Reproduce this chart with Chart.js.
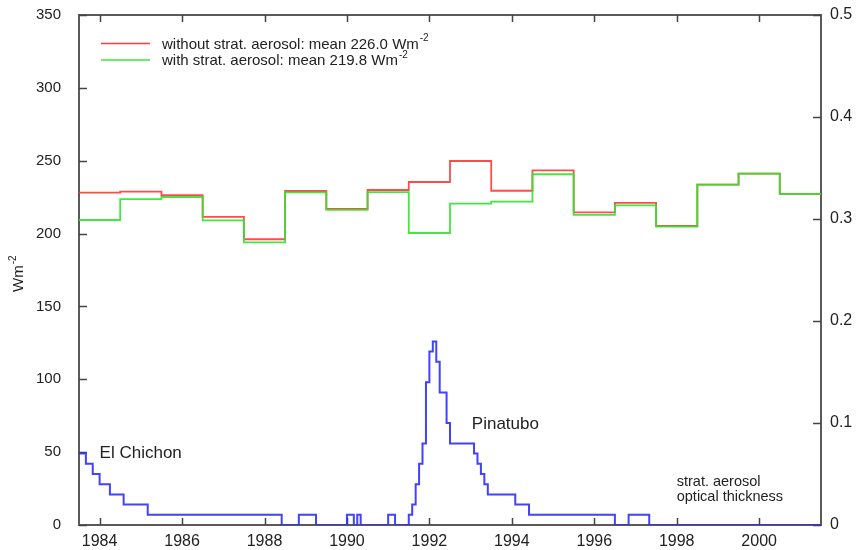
<!DOCTYPE html>
<html>
<head>
<meta charset="utf-8">
<script src="https://cdn.jsdelivr.net/npm/chart.js@4.4.1/dist/chart.umd.min.js"></script>
<style>
  html, body { margin: 0; padding: 0; background: #fff; }
  #wrap { width: 859px; height: 550px; position: relative; }
</style>
</head>
<body>
<div id="wrap"><canvas id="grafica"></canvas></div>
<script>
// annual means, each step runs from mid-year to mid-year
const yearStarts = [1983.5, 1984.5, 1985.5, 1986.5, 1987.5, 1988.5, 1989.5, 1990.5, 1991.5,
                    1992.5, 1993.5, 1994.5, 1995.5, 1996.5, 1997.5, 1998.5, 1999.5, 2000.5];
const yearEnd = 2001.5;
const sinAerosol = [228.1, 228.8, 226.3, 211.4, 196.1, 229.2, 216.9, 229.9, 235.4,
                    249.8, 229.4, 243.4, 214.6, 221.0, 205.2, 233.6, 241.1, 227.2];
const conAerosol = [209.3, 223.7, 225.1, 209.1, 194.0, 228.3, 216.2, 228.5, 200.4,
                    220.5, 221.9, 240.7, 212.8, 219.4, 204.7, 233.6, 241.1, 227.2];

// stratospheric aerosol optical thickness (right axis), value holds from each start
const aotStarts = [1983.5, 1983.667, 1983.833, 1984.0, 1984.25, 1984.583, 1985.167, 1988.417,
                   1988.833, 1989.25, 1990.0, 1990.167, 1990.25, 1990.333, 1991.0, 1991.167,
                   1991.5, 1991.583, 1991.667, 1991.75, 1991.833, 1991.917, 1992.0, 1992.083,
                   1992.167, 1992.25, 1992.417, 1992.5, 1993.083, 1993.167, 1993.25, 1993.333,
                   1993.417, 1994.083, 1994.417, 1996.5, 1996.833, 1997.333];
const aotValores = [0.07, 0.06, 0.05, 0.04, 0.03, 0.02, 0.01, 0, 0.01, 0, 0.01, 0, 0.01, 0,
                    0.01, 0, 0.01, 0.02, 0.04, 0.06, 0.08, 0.14, 0.17, 0.18, 0.16, 0.13, 0.10,
                    0.08, 0.07, 0.06, 0.05, 0.04, 0.03, 0.02, 0.01, 0, 0.01, 0];

const xTicks = [1984, 1986, 1988, 1990, 1992, 1994, 1996, 1998, 2000];
const yTicks = [0, 50, 100, 150, 200, 250, 300, 350];
const y1Ticks = [0, 0.1, 0.2, 0.3, 0.4, 0.5];

const leyenda = [
    { texto: 'without strat. aerosol: mean 226.0 Wm', color: '#ff3b3b' },
    { texto: 'with strat. aerosol: mean 219.8 Wm', color: '#3de63d' }
];
const notas = [
    { texto: 'El Chichon', x: 1984.0, y: 0.07, size: 17 },
    { texto: 'Pinatubo', x: 1993.03, y: 0.099, size: 17 },
    { texto: 'strat. aerosol', x: 1998.0, y: 0.042, size: 14.5 },
    { texto: 'optical thickness', x: 1998.0, y: 0.027, size: 14.5 }
];

const FUENTE = '"Liberation Sans", Arial, sans-serif';

function pasos(inicios, valores, fin) {
    const pts = inicios.map((x, i) => ({ x: x, y: valores[i] }));
    pts.push({ x: fin, y: valores[valores.length - 1] });
    return pts;
}

function fijarTicks(lista) {
    return (scale) => { scale.ticks = lista.map(v => ({ value: v })); };
}

function anchoFijo(ancho) {
    return (s) => { s.width = ancho; s.paddingTop = 8; s.paddingBottom = 8; };
}

// frame, inward tick marks, legend, notes and axis title
const decoracion = {
    id: 'decoracion',
    beforeDatasetsDraw(chart) {
        const { ctx, chartArea: a, scales } = chart;
        ctx.save();
        ctx.strokeStyle = '#5a5a5a';
        ctx.lineWidth = 2;
        ctx.strokeRect(a.left, a.top, a.right - a.left, a.bottom - a.top);

        ctx.lineWidth = 1.5;
        ctx.strokeStyle = '#444';
        ctx.beginPath();
        xTicks.forEach(v => {
            const px = Math.round(scales.x.getPixelForValue(v)) + 0.5;
            ctx.moveTo(px, a.bottom); ctx.lineTo(px, a.bottom - 7);
            ctx.moveTo(px, a.top); ctx.lineTo(px, a.top + 7);
        });
        yTicks.forEach(v => {
            const py = Math.round(scales.y.getPixelForValue(v)) + 0.5;
            ctx.moveTo(a.left, py); ctx.lineTo(a.left + 8, py);
        });
        y1Ticks.forEach(v => {
            const py = Math.round(scales.y1.getPixelForValue(v)) + 0.5;
            ctx.moveTo(a.right, py); ctx.lineTo(a.right - 8, py);
        });
        ctx.stroke();
        ctx.restore();
    },
    afterDraw(chart) {
        const { ctx, scales } = chart;
        ctx.save();
        ctx.fillStyle = '#222';
        ctx.textBaseline = 'middle';

        // legend
        leyenda.forEach((item, i) => {
            const y = 43.5 + i * 16.5;
            ctx.strokeStyle = item.color;
            ctx.lineWidth = 1.5;
            ctx.beginPath();
            ctx.moveTo(101, y); ctx.lineTo(150, y);
            ctx.stroke();
            ctx.font = '15px ' + FUENTE;
            ctx.textAlign = 'left';
            ctx.fillText(item.texto, 162, y + 1);
            const w = ctx.measureText(item.texto).width;
            ctx.font = '10px ' + FUENTE;
            ctx.fillText('-2', 162 + w + 1, y - 5);
        });

        // notes
        notas.forEach(n => {
            ctx.font = n.size + 'px ' + FUENTE;
            ctx.textAlign = 'left';
            ctx.fillText(n.texto, scales.x.getPixelForValue(n.x), scales.y1.getPixelForValue(n.y));
        });

        // left axis title
        ctx.translate(19, 292);
        ctx.rotate(-Math.PI / 2);
        ctx.font = '15px ' + FUENTE;
        ctx.textAlign = 'left';
        ctx.fillText('Wm', 0, 0);
        const w = ctx.measureText('Wm').width;
        ctx.font = '10px ' + FUENTE;
        ctx.fillText('-2', w + 1, -6);
        ctx.restore();
    }
};

const etiquetas = { color: '#222', font: { family: FUENTE, size: 15 } };

new Chart(document.getElementById('grafica'), {
    type: 'line',
    data: {
        datasets: [
            {
                label: 'stratospheric aerosol optical thickness',
                data: pasos(aotStarts, aotValores, yearEnd),
                yAxisID: 'y1',
                borderColor: 'rgba(45,45,255,0.9)',
                borderWidth: 2,
                stepped: true,
                pointRadius: 0,
                order: 1
            },
            {
                label: 'with strat. aerosol',
                data: pasos(yearStarts, conAerosol, yearEnd),
                yAxisID: 'y',
                borderColor: 'rgba(45,230,45,0.9)',
                borderWidth: 1.8,
                stepped: true,
                pointRadius: 0,
                order: 2
            },
            {
                label: 'without strat. aerosol',
                data: pasos(yearStarts, sinAerosol, yearEnd),
                yAxisID: 'y',
                borderColor: 'rgba(255,55,55,0.9)',
                borderWidth: 1.8,
                stepped: true,
                pointRadius: 0,
                order: 3
            }
        ]
    },
    options: {
        responsive: true,
        maintainAspectRatio: false,
        animation: false,
        layout: { padding: { top: 15 } },
        plugins: { legend: { display: false }, tooltip: { enabled: false } },
        scales: {
            x: {
                type: 'linear',
                min: 1983.5,
                max: yearEnd,
                afterBuildTicks: fijarTicks(xTicks),
                afterFit: (s) => { s.height = 25; s.paddingLeft = 0; s.paddingRight = 0; },
                grid: { display: false, drawTicks: false },
                border: { display: false },
                ticks: { ...etiquetas, font: { family: FUENTE, size: 16 }, padding: 7, maxRotation: 0, autoSkip: false,
                         callback: (v) => String(v) }
            },
            y: {
                position: 'left',
                min: 0,
                max: 350,
                afterBuildTicks: fijarTicks(yTicks),
                afterFit: anchoFijo(79),
                grid: { display: false, drawTicks: false },
                border: { display: false },
                ticks: { ...etiquetas, padding: 18, callback: (v) => String(v) }
            },
            y1: {
                position: 'right',
                min: 0,
                max: 0.5,
                afterBuildTicks: fijarTicks(y1Ticks),
                afterFit: anchoFijo(38),
                grid: { display: false, drawTicks: false },
                border: { display: false },
                ticks: { ...etiquetas, font: { family: FUENTE, size: 16 }, padding: 9,
                         callback: (v) => String(Math.round(v * 10) / 10) }
            }
        }
    },
    plugins: [decoracion]
});
</script>
</body>
</html>
